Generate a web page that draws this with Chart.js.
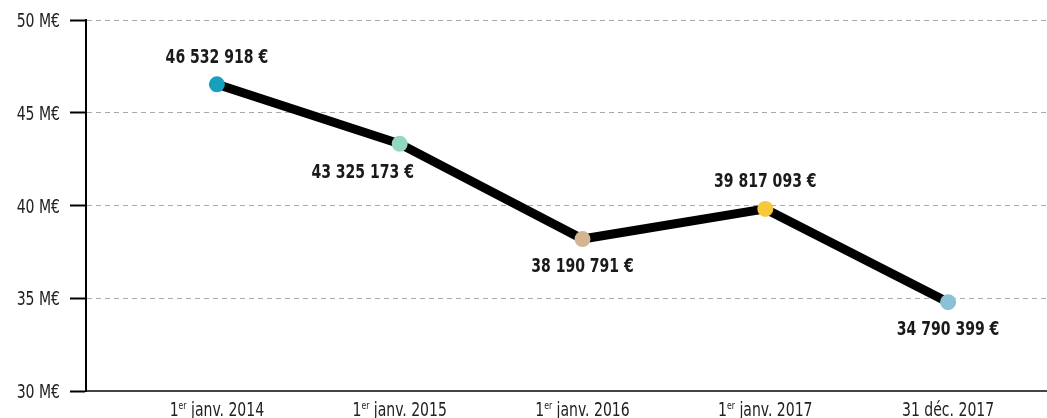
<!DOCTYPE html>
<html>
<head>
<meta charset="utf-8">
<script src="https://cdn.jsdelivr.net/npm/chart.js@4"></script>
<style>
  html, body { margin: 0; padding: 0; background: #fff; }
  #wrap { width: 1047px; height: 418px; }
</style>
</head>
<body>
<div id="wrap"><canvas id="graphique"></canvas></div>
<script>
const FONT = '"DejaVu Sans Condensed", "DejaVu Sans", sans-serif';
const SERRE = 0.78; // horizontal squeeze to get a narrow face

// dates (in years) and their labels
const dates = [2014, 2015, 2016, 2017, 2018];
const dateLabels = ['1er janv. 2014', '1er janv. 2015', '1er janv. 2016', '1er janv. 2017', '31 déc. 2017'];

// montants en euros
const montants = [46532918, 43325173, 38190791, 39817093, 34790399];
const couleurs = ['#17a0be', '#94d6bf', '#d3b592', '#f6c93b', '#8cc0d5'];

// where each value label sits relative to its point
const positions = ['haut', 'bas-gauche', 'bas', 'haut', 'bas'];

const yTicks = [30, 35, 40, 45, 50];

function euros(v) {
    return String(v).replace(/\B(?=(\d{3})+(?!\d))/g, ' ') + ' €';
}

function texteSerre(ctx, txt, x, y, align) {
    ctx.save();
    ctx.translate(x, y);
    ctx.scale(SERRE, 1);
    ctx.textAlign = align;
    ctx.fillText(txt, 0, 0);
    ctx.restore();
}

// value labels next to each point
const etiquettes = {
    id: 'etiquettes',
    afterDatasetsDraw(chart) {
        const ctx = chart.ctx;
        const meta = chart.getDatasetMeta(0);
        ctx.save();
        ctx.font = 'bold 20px ' + FONT;
        ctx.fillStyle = '#1a1a1a';
        ctx.textBaseline = 'middle';
        meta.data.forEach((pt, i) => {
            let x = pt.x, y = pt.y;
            if (positions[i] === 'haut') y -= 27;
            else if (positions[i] === 'bas') y += 28;
            else { y += 29; x -= 37; }
            texteSerre(ctx, euros(montants[i]), x, y, 'center');
        });
        ctx.restore();
    }
};

// axis labels; the "er" of "1er" is set as superscript
const axes = {
    id: 'axes',
    afterDraw(chart) {
        const ctx = chart.ctx;
        const sx = chart.scales.x, sy = chart.scales.y;
        ctx.save();
        ctx.fillStyle = '#222';
        ctx.textBaseline = 'alphabetic';

        ctx.font = '20px ' + FONT;
        yTicks.forEach(v => {
            texteSerre(ctx, v + ' M€', 60, sy.getPixelForValue(v * 1e6) + 7, 'right');
        });

        const base = chart.chartArea.bottom + 25;
        const big = '20px ' + FONT, small = '11px ' + FONT;
        dates.forEach((d, i) => {
            const cx = sx.getPixelForValue(d);
            const lab = dateLabels[i];
            const m = lab.match(/^(\d+)(er)(.*)$/);
            const parts = m ? [[m[1], false], [m[2], true], [m[3], false]] : [[lab, false]];
            let w = 0;
            parts.forEach(p => { ctx.font = p[1] ? small : big; w += ctx.measureText(p[0]).width * SERRE; });
            let x = cx - w / 2;
            parts.forEach(p => {
                ctx.font = p[1] ? small : big;
                texteSerre(ctx, p[0], x, p[1] ? base - 7 : base, 'left');
                x += ctx.measureText(p[0]).width * SERRE;
            });
        });
        ctx.restore();
    }
};

const data = {
    datasets: [{
        data: dates.map((d, i) => ({ x: d, y: montants[i] })),
        borderColor: '#000',
        borderWidth: 9,
        pointRadius: 8,
        pointHoverRadius: 8,
        pointBorderWidth: 0,
        pointBackgroundColor: couleurs,
        fill: false,
        tension: 0
    }]
};

const config = {
    type: 'line',
    data,
    plugins: [etiquettes, axes],
    options: {
        responsive: true,
        maintainAspectRatio: false,
        animation: false,
        layout: { autoPadding: false, padding: { top: 20, right: 0, left: 0, bottom: 0 } },
        scales: {
            x: {
                type: 'linear',
                min: 2013.284,
                max: 2018.541,
                afterFit(scale) { scale.height = 27; },
                ticks: { display: false },
                grid: { display: false, drawTicks: false },
                border: { display: true, color: '#444', width: 2 }
            },
            y: {
                min: 30e6,
                max: 50e6,
                afterBuildTicks(scale) { scale.ticks = yTicks.map(v => ({ value: v * 1e6 })); },
                afterFit(scale) { scale.width = 86; },
                ticks: { display: false },
                grid: {
                    color: '#aaa',
                    tickColor: '#000',
                    tickLength: 16,
                    tickWidth: 2,
                    tickBorderDash: [],
                    lineWidth: 1
                },
                border: { display: true, color: '#000', width: 2, dash: [5, 4] }
            }
        },
        plugins: {
            legend: { display: false },
            title: { display: false },
            tooltip: { enabled: false }
        }
    }
};

const monGraphique = new Chart(document.getElementById('graphique'), config);
</script>
</body>
</html>
